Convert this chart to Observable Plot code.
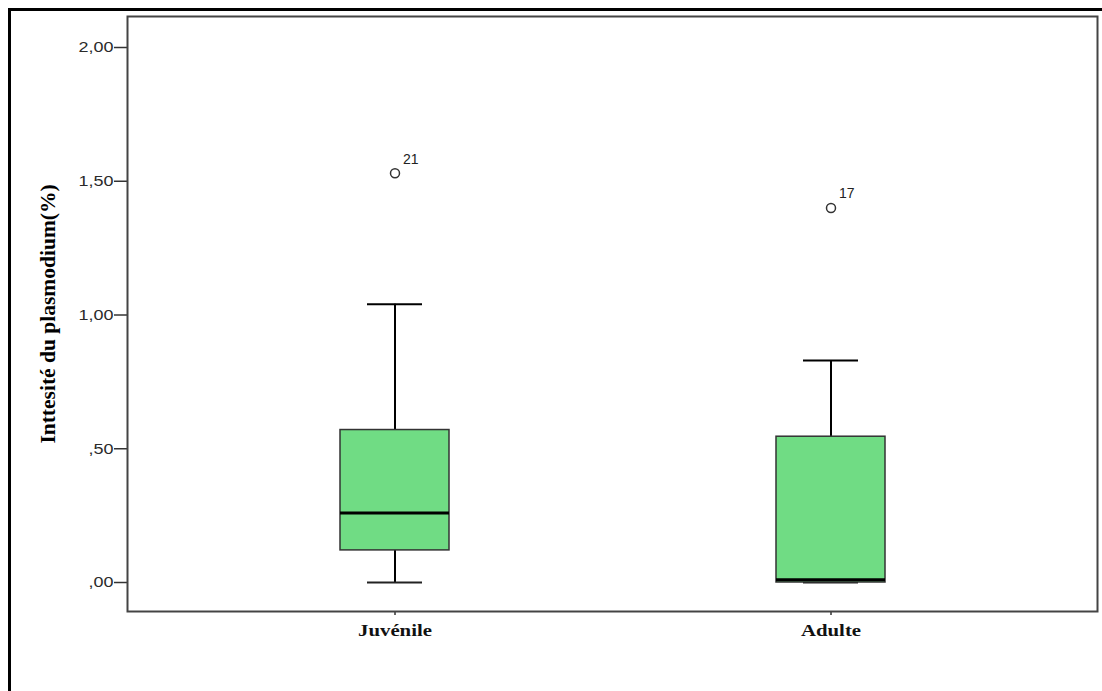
<!DOCTYPE html>
<html>
<head>
<meta charset="utf-8">
<script src="https://cdn.jsdelivr.net/npm/d3@7"></script>
<script src="https://cdn.jsdelivr.net/npm/@observablehq/plot@0.6"></script>
<style>
  html, body { margin: 0; padding: 0; background: #fff; overflow: hidden; }
  #wrap { position: relative; width: 1102px; height: 691px; }
  #outer { position: absolute; left: 8px; top: 8px; width: 3000px; height: 3000px;
           border-left: 3px solid #000; border-top: 3px solid #000; pointer-events: none; }
</style>
</head>
<body>
<div id="wrap"><div id="outer"></div></div>
<script>
// ---- data ----
const groups = ["Juvénile", "Adulte"];
const q1 = [0.12, 0.00];
const median = [0.26, 0.01];
const q3 = [0.57, 0.545];
const whiskerLow = [0.00, 0.00];
const whiskerHigh = [1.04, 0.83];
const outlierGroup = ["Juvénile", "Adulte"];
const outlierValue = [1.53, 1.40];
const outlierLabel = ["21", "17"];
const yTicks = [0, 0.5, 1, 1.5, 2];
const yTickLabels = [",00", ",50", "1,00", "1,50", "2,00"];
const yTitle = "Inttesité du plasmodium(%)";

const boxes = groups.map((g, i) => ({
  group: g, q1: q1[i], median: median[i], q3: q3[i], lo: whiskerLow[i], hi: whiskerHigh[i]
}));
const outliers = outlierGroup.map((g, i) => ({group: g, value: outlierValue[i], label: outlierLabel[i]}));

const green = "#70dc84";
const serif = "'Liberation Serif', 'Times New Roman', serif";
const sans = "'Liberation Sans', Arial, sans-serif";

const chart = Plot.plot({
  width: 1102,
  height: 691,
  marginLeft: 127,
  marginRight: 5,
  marginTop: 16,
  marginBottom: 80,
  style: {fontFamily: sans, fontSize: "15px", color: "#333", background: "transparent"},
  x: {type: "band", domain: groups, paddingInner: 0.75, paddingOuter: 0.485, label: null},
  y: {domain: [-0.1084, 2.1159], label: null},
  marks: [
    Plot.axisY({ticks: yTicks, tickFormat: (d) => yTickLabels[yTicks.indexOf(d)], tickSize: 13, tickPadding: 1,
                stroke: "#333", strokeWidth: 1.5, fill: "#2a2a2a", fontSize: 15, fontFamily: sans, label: null}),
    Plot.axisX({tickSize: 4, tickPadding: 9, stroke: "#333", strokeWidth: 1.5, fill: "#111",
                fontSize: 16, fontWeight: "bold", fontFamily: serif, label: null}),
    Plot.text([yTitle], {text: (d) => d, frameAnchor: "left", textAnchor: "middle", rotate: -90, dx: -79,
                fontSize: 21.5, fontWeight: "bold", fontFamily: serif, fill: "#000"}),
    // whiskers
    Plot.ruleX(boxes, {x: "group", y1: "lo", y2: "q1", stroke: "#000", strokeWidth: 2}),
    Plot.ruleX(boxes, {x: "group", y1: "q3", y2: "hi", stroke: "#000", strokeWidth: 2}),
    // caps
    Plot.tickY(boxes, {x: "group", y: "lo", stroke: "#222", strokeWidth: 2, insetLeft: 27, insetRight: 27}),
    Plot.tickY(boxes, {x: "group", y: "hi", stroke: "#000", strokeWidth: 2, insetLeft: 27, insetRight: 27}),
    // boxes
    Plot.barY(boxes, {x: "group", y1: "q1", y2: "q3", fill: green, stroke: "#333", strokeWidth: 1.5}),
    // medians
    Plot.tickY(boxes, {x: "group", y: "median", stroke: "#000", strokeWidth: 3}),
    // outliers
    Plot.dot(outliers, {x: "group", y: "value", r: 4.5, stroke: "#333", strokeWidth: 1.5, fill: "none"}),
    Plot.text(outliers, {x: "group", y: "value", text: "label", textAnchor: "start", dx: 8, dy: -14,
                fontSize: 14, fontFamily: sans, fill: "#222"}),
    Plot.frame({stroke: "#444", strokeWidth: 2})
  ]
});

document.getElementById("wrap").prepend(chart);

// the reference is rendered slightly stretched horizontally
function stretch(selector, factor) {
  chart.querySelectorAll(selector).forEach((t) => {
    const len = t.getComputedTextLength();
    if (len > 0) {
      t.setAttribute("textLength", (len * factor).toFixed(1));
      t.setAttribute("lengthAdjust", "spacingAndGlyphs");
    }
  });
}
stretch('g[aria-label="y-axis tick label"] text', 1.2);
stretch('g[aria-label="x-axis tick label"] text', 1.3);
</script>
</body>
</html>
